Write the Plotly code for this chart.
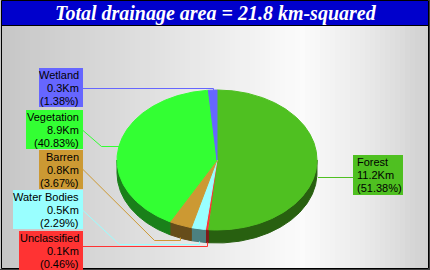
import math
import plotly.graph_objects as go

# ---- data ----
categories = ["Forest", "Unclassified", "Water Bodies", "Barren", "Vegetation", "Wetland"]
areas_km = [11.2, 0.1, 0.5, 0.8, 8.9, 0.3]
top_colors = ["#4FC021", "#FF3333", "#99FFFF", "#CC9933", "#33FF33", "#6666FF"]
side_colors = ["#286010", "#801A1A", "#4C8080", "#664C1A", "#1A801A", "#33337F"]

total = sum(areas_km)
percents = [a / total * 100 for a in areas_km]

# ---- layout constants (pixel space) ----
W, H = 430, 270
CX, CY, RX, RY, DEPTH = 217, 160, 100, 70, 13

fig = go.Figure()

def pt(t, dz=0.0):
    return CX + RX * math.sin(t), CY - RY * math.cos(t) + dz

def arc(t1, t2, dz=0.0):
    n = max(2, int(abs(t2 - t1) / (math.pi / 360)) + 1)
    xs, ys = [], []
    for i in range(n + 1):
        t = t1 + (t2 - t1) * i / n
        x, y = pt(t, dz)
        xs.append(x); ys.append(y)
    return xs, ys

# angles clockwise from 12 o'clock
bounds = []
acc = 0.0
for p in percents:
    t1 = acc / 100 * 2 * math.pi
    acc += p
    t2 = acc / 100 * 2 * math.pi
    bounds.append((t1, t2))

# sides (front half only)
for (t1, t2), c in zip(bounds, side_colors):
    a, b = max(t1, math.pi / 2), min(t2, 3 * math.pi / 2)
    if b <= a:
        continue
    xt, yt = arc(a, b)
    xb, yb = arc(b, a, DEPTH)
    fig.add_trace(go.Scatter(x=xt + xb + [xt[0]], y=yt + yb + [yt[0]], mode="lines",
                             fill="toself", fillcolor=c, line=dict(color=c, width=1),
                             hoverinfo="skip"))

# tops
for (t1, t2), c in zip(bounds, top_colors):
    xs, ys = arc(t1, t2)
    fig.add_trace(go.Scatter(x=[CX] + xs + [CX], y=[CY] + ys + [CY], mode="lines",
                             fill="toself", fillcolor=c, line=dict(color=c, width=1),
                             hoverinfo="skip"))

shapes = []
# background gradient
stops = [(0.0, (198, 198, 198)), (0.35, (224, 224, 224)), (0.70, (251, 251, 251)),
         (0.85, (234, 234, 234)), (1.0, (207, 207, 207))]
def grad(f):
    for (f0, c0), (f1, c1) in zip(stops[:-1], stops[1:]):
        if f0 <= f <= f1:
            u = (f - f0) / (f1 - f0)
            return "rgb(%d,%d,%d)" % tuple(round(c0[k] + (c1[k] - c0[k]) * u) for k in range(3))
    return "rgb(207,207,207)"
step = 5
for x0 in range(0, W, step):
    shapes.append(dict(type="rect", xref="x", yref="y", x0=x0, x1=x0 + step + 0.5, y0=0, y1=H,
                       fillcolor=grad((x0 + step / 2) / W), line=dict(width=0), layer="below"))
# borders
shapes.append(dict(type="rect", xref="x", yref="y", x0=1.5, x1=428.5, y0=0.5, y1=268.5,
                   fillcolor="rgba(0,0,0,0)", line=dict(color="#000000", width=1), layer="below"))
shapes.append(dict(type="line", xref="x", yref="y", x0=0, x1=430, y0=269.5, y1=269.5,
                   line=dict(color="#404040", width=1), layer="below"))
shapes.append(dict(type="line", xref="x", yref="y", x0=429.5, x1=429.5, y0=0, y1=270,
                   line=dict(color="#404040", width=1), layer="below"))
# title bar
shapes.append(dict(type="rect", xref="x", yref="y", x0=2, x1=428, y0=1, y1=25,
                   fillcolor="#0000CC", line=dict(width=0), layer="below"))
shapes.append(dict(type="line", xref="x", yref="y", x0=2, x1=428, y0=25.5, y1=25.5,
                   line=dict(color="#000000", width=1), layer="below"))

# label boxes: (x0, x1, y0, y1, align, connector path)
label_layout = {
    "Wetland":      (39, 83, 68, 107, "right", [(83, 88), (213, 88), (213, 90)]),
    "Vegetation":   (26, 83, 110, 149, "right", [(83, 130), (101, 146), (119, 146)]),
    "Barren":       (39, 83, 150, 189, "right", [(83, 169), (154, 240), (180, 240), (180, 237)]),
    "Water Bodies": (13, 83, 190, 229, "right", [(83, 210), (119, 244), (199, 244), (199, 241)]),
    "Unclassified": (19, 83, 231, 270, "right", [(83, 246), (207, 246), (207, 242)]),
    "Forest":       (353, 403, 155, 195, "left", [(318, 177), (353, 177)]),
}

annotations = [dict(x=216, y=13, xref="x", yref="y", showarrow=False,
                    text="<b><i>Total drainage area = %.1f km-squared</i></b>" % total,
                    font=dict(family="Liberation Serif", size=20, color="#FFFFFF"))]

for cat, a, p, col in zip(categories, areas_km, percents, top_colors):
    x0, x1, y0, y1, al, path = label_layout[cat]
    d = "M %.1f %.1f " % (path[0][0], path[0][1] + 0.5) + \
        " ".join("L %.1f %.1f" % (q[0] + 0.5, q[1] + 0.5) for q in path[1:])
    shapes.append(dict(type="path", xref="x", yref="y", path=d,
                       line=dict(color=col, width=1)))
    shapes.append(dict(type="rect", xref="x", yref="y", x0=x0, x1=x1, y0=y0, y1=y1,
                       fillcolor=col, line=dict(width=0)))
    lines = [cat, "%.1fKm" % a, "(%.2f%%)" % p]
    for i, s in enumerate(lines):
        annotations.append(dict(x=(x1 - 2) if al == "right" else (x0 + 2), y=y0 + 7 + 13 * i,
                                xref="x", yref="y", showarrow=False, text=s,
                                xanchor=al, yanchor="middle",
                                font=dict(family="Liberation Sans", size=11, color="#000000")))

fig.update_layout(
    width=W, height=H, autosize=False,
    margin=dict(l=0, r=0, t=0, b=0, pad=0),
    paper_bgcolor="#e0e0e0", plot_bgcolor="rgba(0,0,0,0)",
    showlegend=False,
    xaxis=dict(range=[0, W], visible=False, fixedrange=True),
    yaxis=dict(range=[H, 0], visible=False, fixedrange=True),
    shapes=shapes, annotations=annotations,
)

fig.write_html("out.html", config={"displayModeBar": False})
